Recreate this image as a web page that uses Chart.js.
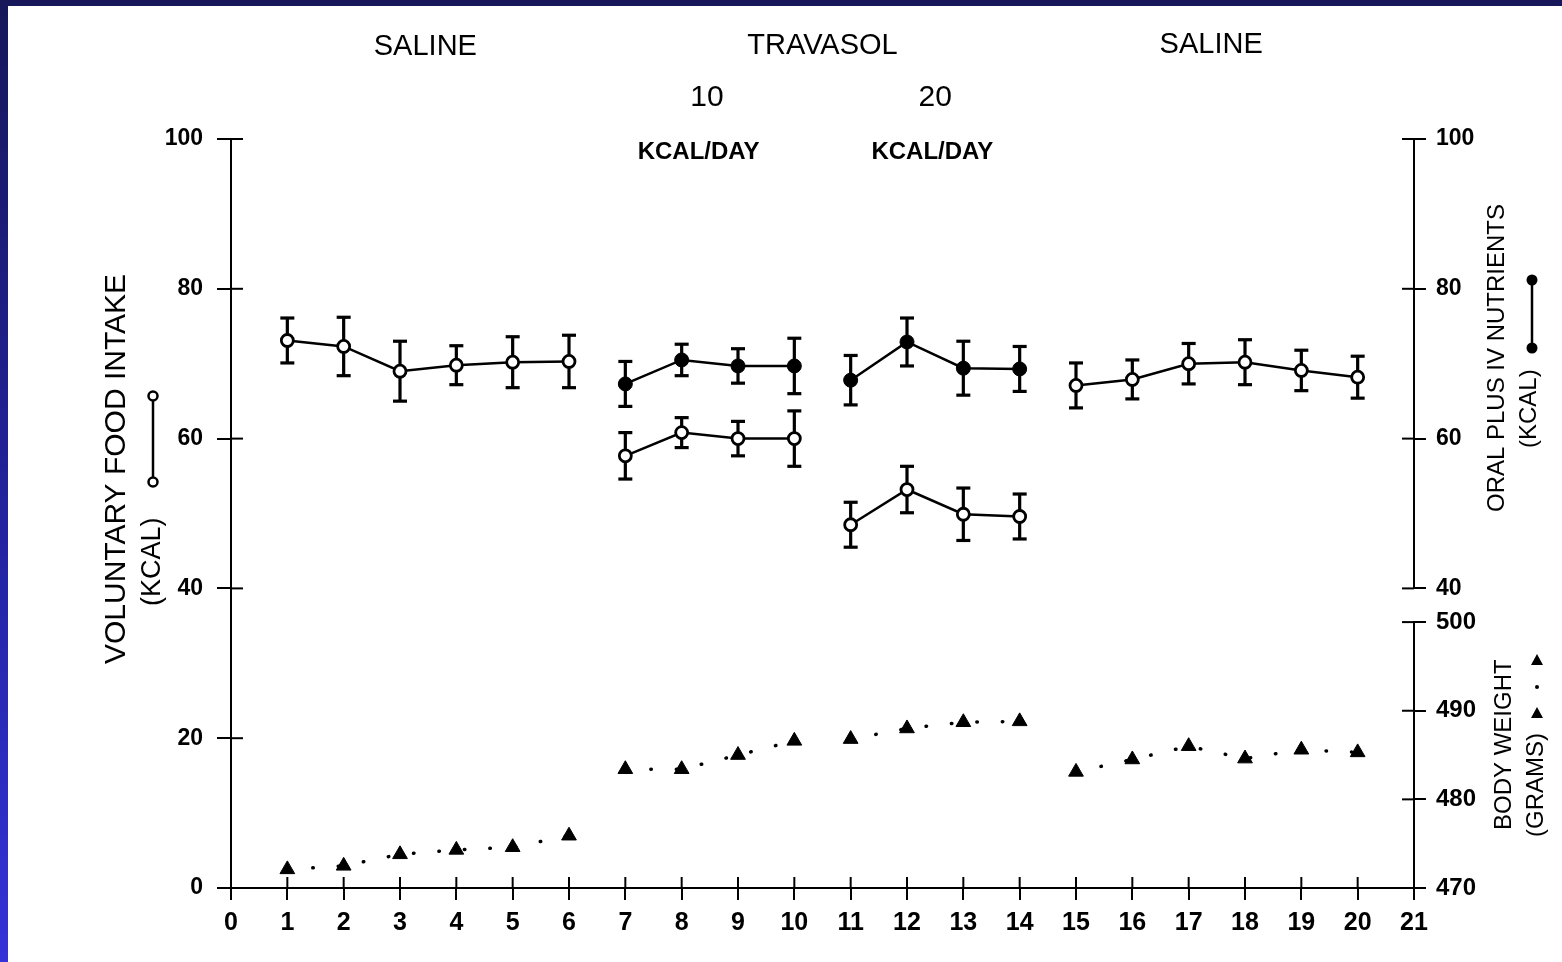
<!DOCTYPE html>
<html>
<head>
<meta charset="utf-8">
<script src="https://cdn.jsdelivr.net/npm/chart.js@4.4.0/dist/chart.umd.min.js"></script>
<style>
    html, body { margin: 0; padding: 0; width: 1562px; height: 962px; overflow: hidden; }
    body { background: linear-gradient(to bottom, #17175a 0%, #2323a0 55%, #3333d8 100%); }
    #frame { position: absolute; left: 8px; top: 6px; width: 1554px; height: 956px; background: #fff; }
    canvas { display: block; }
</style>
</head>
<body>
<div id="frame"><canvas id="myChart"></canvas></div>
<script>
// day of experiment
var days = [1, 2, 3, 4, 5, 6, 7, 8, 9, 10, 11, 12, 13, 14, 15, 16, 17, 18, 19, 20]
// first day of each period (saline / travasol 10 / travasol 20 / saline)
var phaseStarts = [1, 7, 11, 15]

// voluntary food intake (kcal), open circles, with error bars
var voluntaryIntake = [73.1, 72.3, 69.0, 69.8, 70.2, 70.3, 57.7, 60.8, 60.0, 60.0, 48.5, 53.2, 49.9, 49.6, 67.1, 67.9, 70.0, 70.2, 69.1, 68.2]
var voluntaryErr = [3.0, 3.9, 4.0, 2.6, 3.4, 3.5, 3.1, 2.0, 2.3, 3.7, 3.0, 3.1, 3.5, 3.0, 3.0, 2.6, 2.7, 3.0, 2.7, 2.8]

// oral plus IV nutrients (kcal), filled circles, only during travasol
var oralPlusIv = [null, null, null, null, null, null, 67.3, 70.5, 69.7, 69.7, 67.8, 72.9, 69.4, 69.3, null, null, null, null, null, null]
var oralPlusIvErr = [null, null, null, null, null, null, 3.0, 2.1, 2.3, 3.7, 3.3, 3.2, 3.6, 3.0, null, null, null, null, null, null]

// body weight (grams), triangles
var bodyWeight = [472.1, 472.5, 473.8, 474.3, 474.6, 475.9, 483.4, 483.4, 485.0, 486.6, 486.8, 488.0, 488.7, 488.8, 483.1, 484.5, 486.0, 484.6, 485.6, 485.3]

var leftTicks = [0, 20, 40, 60, 80, 100]
var rightTicks = [40, 60, 80, 100]
var weightTicks = [470, 480, 490, 500]

// labels over the periods: [text, day position]
var periodLabels = [['SALINE', 3.45], ['TRAVASOL', 10.5], ['SALINE', 17.4]]
var doseLabels = [['10', 8.45], ['20', 12.5]]
var doseUnits = [['KCAL/DAY', 8.3], ['KCAL/DAY', 12.45]]

function withBreaks(values, errs) {
    var pts = []
    days.forEach(function(d, i) {
        if (i > 0 && phaseStarts.includes(d)) {
            pts.push({x: d - 0.5, y: null, e: null})
        }
        pts.push({x: d, y: values[i], e: errs ? errs[i] : null})
    })
    return pts
}

function line(ctx, x1, y1, x2, y2) {
    ctx.beginPath()
    ctx.moveTo(x1, y1)
    ctx.lineTo(x2, y2)
    ctx.stroke()
}

const errorBars = {
    id: 'errorBars',
    beforeDatasetsDraw(chart) {
        const ctx = chart.ctx
        ctx.save()
        ctx.strokeStyle = '#000'
        ctx.lineWidth = 3.2
        chart.data.datasets.forEach(function(ds, i) {
            if (!ds.hasErrors) return
            const meta = chart.getDatasetMeta(i)
            const ys = chart.scales[ds.yAxisID]
            meta.data.forEach(function(pt, j) {
                const d = ds.data[j]
                if (d.y == null || d.e == null) return
                const top = ys.getPixelForValue(d.y + d.e)
                const bot = ys.getPixelForValue(d.y - d.e)
                line(ctx, pt.x, top, pt.x, bot)
                line(ctx, pt.x - 7, top, pt.x + 7, top)
                line(ctx, pt.x - 7, bot, pt.x + 7, bot)
            })
        })
        ctx.restore()
    }
}

// the original axes have ticks crossing the axis line
const crossTicks = {
    id: 'crossTicks',
    afterDraw(chart) {
        const ctx = chart.ctx
        const a = chart.chartArea
        ctx.save()
        ctx.strokeStyle = '#000'
        ctx.lineWidth = 2
        const xs = chart.scales.x
        xs.ticks.forEach(function(t) {
            const px = xs.getPixelForValue(t.value)
            line(ctx, px, a.bottom, px, a.bottom - 11)
        })
        const ys = chart.scales.y
        ys.ticks.forEach(function(t) {
            const py = ys.getPixelForValue(t.value)
            line(ctx, a.left, py, a.left + 12, py)
        })
        ;['y2', 'y3'].forEach(function(id) {
            const s = chart.scales[id]
            s.ticks.forEach(function(t) {
                const py = s.getPixelForValue(t.value)
                line(ctx, s.left, py, s.left - 12, py)
            })
        })
        ctx.restore()
    }
}

function rotatedText(ctx, text, x, y, align) {
    ctx.save()
    ctx.translate(x, y)
    ctx.rotate(-Math.PI / 2)
    ctx.textAlign = align
    ctx.textBaseline = 'middle'
    ctx.fillText(text, 0, 0)
    ctx.restore()
}

const annotations = {
    id: 'annotations',
    afterDraw(chart) {
        const ctx = chart.ctx
        const a = chart.chartArea
        const xs = chart.scales.x
        const font = "'Liberation Sans', Arial, sans-serif"
        ctx.save()
        ctx.fillStyle = '#000'
        ctx.strokeStyle = '#000'
        ctx.textAlign = 'center'
        ctx.textBaseline = 'middle'

        ctx.font = '29px ' + font
        periodLabels.forEach(function(p, i) {
            ctx.fillText(p[0], xs.getPixelForValue(p[1]), a.top - 92 - i)
        })
        ctx.font = '30px ' + font
        doseLabels.forEach(function(p) {
            ctx.fillText(p[0], xs.getPixelForValue(p[1]), a.top - 41)
        })
        ctx.font = 'bold 24px ' + font
        doseUnits.forEach(function(p) {
            ctx.fillText(p[0], xs.getPixelForValue(p[1]), a.top + 13)
        })

        // left axis title
        ctx.font = '30px ' + font
        rotatedText(ctx, 'VOLUNTARY FOOD INTAKE', 109, 463, 'center')
        ctx.font = '27px ' + font
        rotatedText(ctx, '(KCAL)', 145, 600, 'left')
        ctx.lineWidth = 2.5
        line(ctx, 145, 471, 145, 395)
        ctx.fillStyle = '#fff'
        ;[476, 390].forEach(function(cy) {
            ctx.beginPath(); ctx.arc(145, cy, 4.5, 0, Math.PI * 2); ctx.fill(); ctx.stroke()
        })
        ctx.fillStyle = '#000'

        // right axis titles
        ctx.font = '24px ' + font
        rotatedText(ctx, 'ORAL PLUS IV NUTRIENTS', 1489, 352, 'center')
        rotatedText(ctx, '(KCAL)', 1521, 442, 'left')
        line(ctx, 1524, 342, 1524, 276)
        ;[342, 274].forEach(function(cy) {
            ctx.beginPath(); ctx.arc(1524, cy, 5.5, 0, Math.PI * 2); ctx.fill()
        })

        rotatedText(ctx, 'BODY WEIGHT', 1496, 824, 'left')
        rotatedText(ctx, '(GRAMS)', 1528, 831, 'left')
        ;[707, 654].forEach(function(cy) {
            ctx.beginPath()
            ctx.moveTo(1529, cy - 6); ctx.lineTo(1535, cy + 5); ctx.lineTo(1523, cy + 5)
            ctx.closePath(); ctx.fill()
        })
        ctx.beginPath(); ctx.arc(1529, 681, 2, 0, Math.PI * 2); ctx.fill()
        ctx.restore()
    }
}

Chart.defaults.font.family = "'Liberation Sans', Arial, sans-serif"
Chart.defaults.color = '#000'

function axisGrid(len) {
    return {drawOnChartArea: false, tickLength: len, color: '#000', lineWidth: 2}
}

function initialiseChart() {
    const ctx = document.getElementById('myChart')
    const myChart = new Chart(ctx, {
        type: 'line',
        data: {
            datasets: [{
                label: 'Voluntary food intake',
                data: withBreaks(voluntaryIntake, voluntaryErr),
                hasErrors: true,
                yAxisID: 'y',
                borderColor: '#000',
                borderWidth: 2.5,
                pointStyle: 'circle',
                pointRadius: 6,
                pointBorderWidth: 2.8,
                pointBorderColor: '#000',
                pointBackgroundColor: '#fff',
                tension: 0
            }, {
                label: 'Oral plus IV nutrients',
                data: withBreaks(oralPlusIv, oralPlusIvErr),
                hasErrors: true,
                yAxisID: 'y2',
                borderColor: '#000',
                borderWidth: 2.5,
                pointStyle: 'circle',
                pointRadius: 7,
                pointBorderWidth: 1,
                pointBorderColor: '#000',
                pointBackgroundColor: '#000',
                tension: 0
            }, {
                label: 'Body weight',
                data: withBreaks(bodyWeight),
                yAxisID: 'y3',
                borderColor: '#000',
                borderWidth: 3.5,
                borderDash: [0.5, 25],
                borderCapStyle: 'round',
                pointStyle: 'triangle',
                pointRadius: 8.5,
                pointBorderWidth: 1,
                pointBorderColor: '#000',
                pointBackgroundColor: '#000',
                tension: 0
            }]
        },
        options: {
            responsive: true,
            maintainAspectRatio: false,
            animation: false,
            spanGaps: false,
            layout: {padding: {top: 133, left: 0, right: 0, bottom: 0}},
            plugins: {legend: {display: false}, tooltip: {enabled: false}},
            scales: {
                x: {
                    type: 'linear', position: 'bottom', min: 0, max: 21,
                    ticks: {stepSize: 1, autoSkip: false, maxRotation: 0, padding: 8, font: {size: 25, weight: 'bold'}},
                    grid: axisGrid(12),
                    border: {color: '#000', width: 2},
                    afterFit: function(s) { s.height = 74 }
                },
                y: {
                    position: 'left', min: 0, max: 100,
                    afterBuildTicks: function(s) { s.ticks = leftTicks.map(v => ({value: v})) },
                    ticks: {padding: 14, font: {size: 23, weight: 'bold'}},
                    grid: axisGrid(14),
                    border: {color: '#000', width: 2},
                    afterFit: function(s) { s.width = 223 }
                },
                y2: {
                    position: 'right', stack: 'right', stackWeight: 60, weight: 1,
                    min: 40, max: 100,
                    afterBuildTicks: function(s) { s.ticks = rightTicks.map(v => ({value: v})) },
                    ticks: {padding: 10, font: {size: 23, weight: 'bold'}},
                    grid: axisGrid(12),
                    border: {color: '#000', width: 2},
                    afterFit: function(s) { s.width = 148 }
                },
                gap: {
                    position: 'right', stack: 'right', stackWeight: 4.5, weight: 2,
                    min: 0, max: 1,
                    ticks: {display: false},
                    grid: {display: false},
                    border: {display: false},
                    afterFit: function(s) { s.width = 148 }
                },
                y3: {
                    position: 'right', stack: 'right', stackWeight: 35.5, weight: 3,
                    min: 470, max: 500,
                    afterBuildTicks: function(s) { s.ticks = weightTicks.map(v => ({value: v})) },
                    ticks: {padding: 10, font: {size: 24, weight: 'bold'}},
                    grid: axisGrid(12),
                    border: {color: '#000', width: 2},
                    afterFit: function(s) { s.width = 148 }
                }
            }
        },
        plugins: [errorBars, crossTicks, annotations]
    });
}

initialiseChart()
</script>
</body>
</html>
